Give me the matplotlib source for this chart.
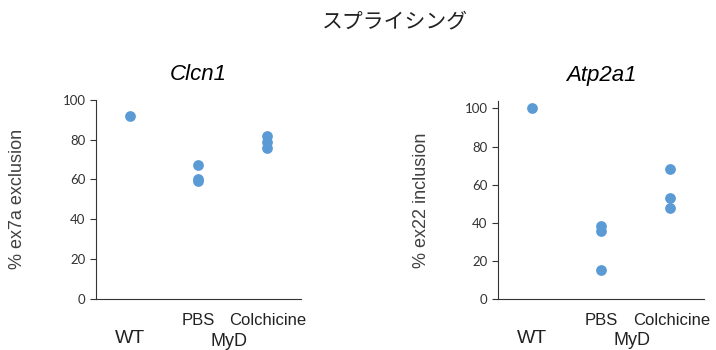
import numpy as np
from matplotlib import pyplot as plt

# data
groups = ['WT', 'PBS', 'Colchicine']
clcn1_wt = [92]
clcn1_pbs = [67, 60, 59]
clcn1_col = [82, 79, 76]
atp_wt = [100]
atp_pbs = [38.5, 35.5, 15]
atp_col = [68, 53, 47.5]

blue = '#5B9BD5'
plt.rcParams['font.family'] = ['Liberation Sans', 'DejaVu Sans']

fig = plt.figure(figsize=(7.16, 3.5), dpi=100)


def panel(rect, vals, title, ylabel, ymax, ylab_x):
    ax = fig.add_axes(rect)
    for i, v in enumerate(vals):
        ax.scatter(np.full(len(v), i + 1), v, s=60, color=blue, zorder=3,
                   linewidths=0)
    ax.set_xlim(0.5, 3.5)
    ax.set_ylim(0, ymax)
    ax.set_yticks(range(0, 101, 20))
    ax.set_xticks([])
    for s in ['top', 'right']:
        ax.spines[s].set_visible(False)
    ax.spines['left'].set_color('#333333')
    ax.spines['bottom'].set_color('#333333')
    ax.tick_params(axis='y', direction='out', length=4, labelsize=9.5,
                   color='#333333', labelcolor='#333333')
    for lab in ax.get_yticklabels():
        lab.set_family('Lato')
    ax.set_title(title, style='italic', fontsize=16, pad=14)
    ax.set_ylabel(ylabel, fontsize=13, color='#404040')
    ax.yaxis.set_label_coords(ylab_x, 0.5)
    # category labels
    tr = ax.get_xaxis_transform()
    ax.text(1, -0.2, groups[0], transform=tr, ha='center', va='center',
            fontsize=14, color='#222222')
    ax.text(2, -0.11, groups[1], transform=tr, ha='center', va='center',
            fontsize=12, color='#222222')
    ax.text(3.02, -0.11, groups[2], transform=tr, ha='center', va='center',
            fontsize=12, color='#222222')
    ax.text(2.45, -0.212, 'MyD', transform=tr, ha='center', va='center',
            fontsize=13, color='#222222')
    return ax


panel([0.134, 0.146, 0.286, 0.569], [clcn1_wt, clcn1_pbs, clcn1_col],
      'Clcn1', '% ex7a exclusion', 100, -0.34)
panel([0.6955, 0.146, 0.288, 0.566], [atp_wt, atp_pbs, atp_col],
      'Atp2a1', '% ex22 inclusion', 104, -0.33)

fig.text(0.552, 0.94, 'スプライシング', ha='center', va='center', fontsize=15,
         family=['Noto Sans CJK JP', 'DejaVu Sans'], color='#222222')

fig.savefig('out.png', dpi=100)
